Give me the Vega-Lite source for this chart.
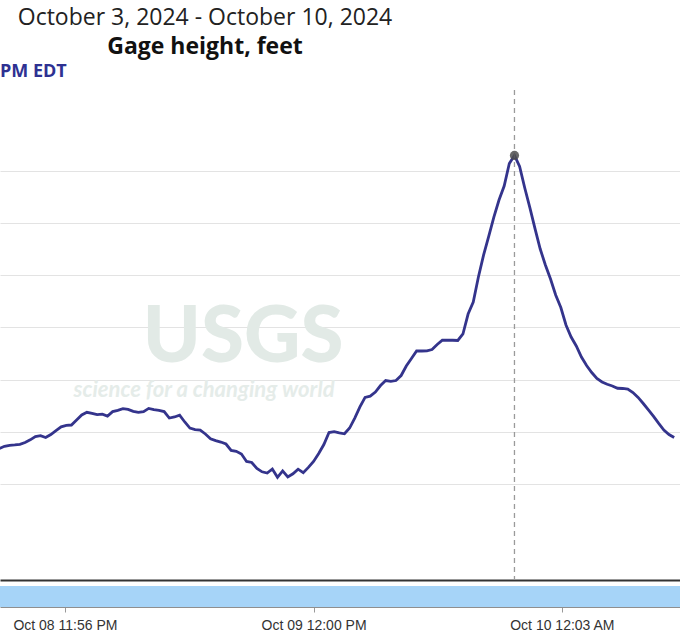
{
  "$schema": "https://vega.github.io/schema/vega-lite/v6.json",
  "padding": {"left": 0, "right": 0, "top": 7, "bottom": 0},
  "background": "white",
  "config": {"view": {"stroke": null}, "concat": {"spacing": 5}},
  "title": {
    "text": "October 3, 2024 - October 10, 2024",
    "subtitle": "Gage height, feet",
    "anchor": "middle",
    "dx": -135,
    "offset": 4,
    "font": "Open Sans",
    "fontSize": 23,
    "fontWeight": "normal",
    "color": "#222222",
    "subtitleFont": "Open Sans",
    "subtitleFontSize": 23,
    "subtitleFontWeight": "bold",
    "subtitleColor": "#111111",
    "subtitlePadding": 6
  },
  "datasets": {
    "gage": [
      {"t": "2024-10-08T20:30", "v": 2.326},
      {"t": "2024-10-08T20:45", "v": 2.340},
      {"t": "2024-10-08T21:00", "v": 2.361},
      {"t": "2024-10-08T21:15", "v": 2.371},
      {"t": "2024-10-08T21:30", "v": 2.374},
      {"t": "2024-10-08T21:45", "v": 2.380},
      {"t": "2024-10-08T22:00", "v": 2.398},
      {"t": "2024-10-08T22:15", "v": 2.423},
      {"t": "2024-10-08T22:30", "v": 2.455},
      {"t": "2024-10-08T22:45", "v": 2.463},
      {"t": "2024-10-08T23:00", "v": 2.445},
      {"t": "2024-10-08T23:15", "v": 2.474},
      {"t": "2024-10-08T23:30", "v": 2.512},
      {"t": "2024-10-08T23:45", "v": 2.548},
      {"t": "2024-10-09T00:00", "v": 2.562},
      {"t": "2024-10-09T00:15", "v": 2.565},
      {"t": "2024-10-09T00:30", "v": 2.613},
      {"t": "2024-10-09T00:45", "v": 2.661},
      {"t": "2024-10-09T01:00", "v": 2.687},
      {"t": "2024-10-09T01:15", "v": 2.677},
      {"t": "2024-10-09T01:30", "v": 2.664},
      {"t": "2024-10-09T01:45", "v": 2.669},
      {"t": "2024-10-09T02:00", "v": 2.651},
      {"t": "2024-10-09T02:15", "v": 2.693},
      {"t": "2024-10-09T02:30", "v": 2.705},
      {"t": "2024-10-09T02:45", "v": 2.721},
      {"t": "2024-10-09T03:00", "v": 2.714},
      {"t": "2024-10-09T03:15", "v": 2.696},
      {"t": "2024-10-09T03:30", "v": 2.687},
      {"t": "2024-10-09T03:45", "v": 2.693},
      {"t": "2024-10-09T04:00", "v": 2.724},
      {"t": "2024-10-09T04:15", "v": 2.712},
      {"t": "2024-10-09T04:30", "v": 2.706},
      {"t": "2024-10-09T04:45", "v": 2.694},
      {"t": "2024-10-09T05:00", "v": 2.632},
      {"t": "2024-10-09T05:15", "v": 2.642},
      {"t": "2024-10-09T05:30", "v": 2.660},
      {"t": "2024-10-09T05:45", "v": 2.594},
      {"t": "2024-10-09T06:00", "v": 2.536},
      {"t": "2024-10-09T06:15", "v": 2.521},
      {"t": "2024-10-09T06:30", "v": 2.517},
      {"t": "2024-10-09T06:45", "v": 2.479},
      {"t": "2024-10-09T07:00", "v": 2.433},
      {"t": "2024-10-09T07:15", "v": 2.415},
      {"t": "2024-10-09T07:30", "v": 2.402},
      {"t": "2024-10-09T07:45", "v": 2.383},
      {"t": "2024-10-09T08:00", "v": 2.321},
      {"t": "2024-10-09T08:15", "v": 2.313},
      {"t": "2024-10-09T08:30", "v": 2.287},
      {"t": "2024-10-09T08:45", "v": 2.216},
      {"t": "2024-10-09T09:00", "v": 2.206},
      {"t": "2024-10-09T09:15", "v": 2.150},
      {"t": "2024-10-09T09:30", "v": 2.117},
      {"t": "2024-10-09T09:45", "v": 2.105},
      {"t": "2024-10-09T10:00", "v": 2.144},
      {"t": "2024-10-09T10:15", "v": 2.064},
      {"t": "2024-10-09T10:30", "v": 2.126},
      {"t": "2024-10-09T10:45", "v": 2.067},
      {"t": "2024-10-09T11:00", "v": 2.098},
      {"t": "2024-10-09T11:15", "v": 2.142},
      {"t": "2024-10-09T11:30", "v": 2.109},
      {"t": "2024-10-09T11:45", "v": 2.159},
      {"t": "2024-10-09T12:00", "v": 2.216},
      {"t": "2024-10-09T12:15", "v": 2.292},
      {"t": "2024-10-09T12:30", "v": 2.378},
      {"t": "2024-10-09T12:45", "v": 2.493},
      {"t": "2024-10-09T13:00", "v": 2.501},
      {"t": "2024-10-09T13:15", "v": 2.489},
      {"t": "2024-10-09T13:30", "v": 2.481},
      {"t": "2024-10-09T13:45", "v": 2.536},
      {"t": "2024-10-09T14:00", "v": 2.632},
      {"t": "2024-10-09T14:15", "v": 2.738},
      {"t": "2024-10-09T14:30", "v": 2.830},
      {"t": "2024-10-09T14:45", "v": 2.841},
      {"t": "2024-10-09T15:00", "v": 2.881},
      {"t": "2024-10-09T15:15", "v": 2.943},
      {"t": "2024-10-09T15:30", "v": 2.991},
      {"t": "2024-10-09T15:45", "v": 2.984},
      {"t": "2024-10-09T16:00", "v": 2.991},
      {"t": "2024-10-09T16:15", "v": 3.039},
      {"t": "2024-10-09T16:30", "v": 3.130},
      {"t": "2024-10-09T16:45", "v": 3.202},
      {"t": "2024-10-09T17:00", "v": 3.274},
      {"t": "2024-10-09T17:15", "v": 3.274},
      {"t": "2024-10-09T17:30", "v": 3.276},
      {"t": "2024-10-09T17:45", "v": 3.288},
      {"t": "2024-10-09T18:00", "v": 3.336},
      {"t": "2024-10-09T18:15", "v": 3.377},
      {"t": "2024-10-09T18:30", "v": 3.379},
      {"t": "2024-10-09T18:45", "v": 3.377},
      {"t": "2024-10-09T19:00", "v": 3.375},
      {"t": "2024-10-09T19:15", "v": 3.437},
      {"t": "2024-10-09T19:30", "v": 3.628},
      {"t": "2024-10-09T19:45", "v": 3.743},
      {"t": "2024-10-09T20:00", "v": 3.983},
      {"t": "2024-10-09T20:15", "v": 4.193},
      {"t": "2024-10-09T20:30", "v": 4.371},
      {"t": "2024-10-09T20:45", "v": 4.557},
      {"t": "2024-10-09T21:00", "v": 4.720},
      {"t": "2024-10-09T21:15", "v": 4.854},
      {"t": "2024-10-09T21:30", "v": 5.070},
      {"t": "2024-10-09T21:45", "v": 5.147},
      {"t": "2024-10-09T22:00", "v": 5.041},
      {"t": "2024-10-09T22:15", "v": 4.835},
      {"t": "2024-10-09T22:30", "v": 4.644},
      {"t": "2024-10-09T22:45", "v": 4.443},
      {"t": "2024-10-09T23:00", "v": 4.251},
      {"t": "2024-10-09T23:15", "v": 4.098},
      {"t": "2024-10-09T23:30", "v": 3.964},
      {"t": "2024-10-09T23:45", "v": 3.810},
      {"t": "2024-10-10T00:00", "v": 3.690},
      {"t": "2024-10-10T00:15", "v": 3.523},
      {"t": "2024-10-10T00:30", "v": 3.408},
      {"t": "2024-10-10T00:45", "v": 3.322},
      {"t": "2024-10-10T01:00", "v": 3.216},
      {"t": "2024-10-10T01:15", "v": 3.135},
      {"t": "2024-10-10T01:30", "v": 3.068},
      {"t": "2024-10-10T01:45", "v": 3.011},
      {"t": "2024-10-10T02:00", "v": 2.977},
      {"t": "2024-10-10T02:15", "v": 2.955},
      {"t": "2024-10-10T02:30", "v": 2.939},
      {"t": "2024-10-10T02:45", "v": 2.917},
      {"t": "2024-10-10T03:00", "v": 2.915},
      {"t": "2024-10-10T03:15", "v": 2.910},
      {"t": "2024-10-10T03:30", "v": 2.876},
      {"t": "2024-10-10T03:45", "v": 2.829},
      {"t": "2024-10-10T04:00", "v": 2.771},
      {"t": "2024-10-10T04:15", "v": 2.709},
      {"t": "2024-10-10T04:30", "v": 2.647},
      {"t": "2024-10-10T04:45", "v": 2.580},
      {"t": "2024-10-10T05:00", "v": 2.517},
      {"t": "2024-10-10T05:15", "v": 2.474},
      {"t": "2024-10-10T05:30", "v": 2.445}
    ],
    "watermark": [
      {"wm": "USGS", "part": "logo"},
      {"wm": "science for a changing world", "part": "motto"}
    ]
  },
  "vconcat": [
    {
      "width": 680,
      "height": 490,
      "title": {
        "text": "PM EDT",
        "anchor": "start",
        "font": "Open Sans",
        "fontSize": 18,
        "fontWeight": "bold",
        "color": "#2e3192",
        "offset": 8
      },
      "layer": [
        {
          "data": {"name": "watermark"},
          "transform": [{"filter": "datum.part === 'logo'"}],
          "mark": {"type": "text", "font": "Lato", "fontSize": 78, "fontWeight": 900, "color": "#e2eae6", "align": "center", "baseline": "alphabetic"},
          "encoding": {
            "x": {"datum": {"year": 2024, "month": 10, "date": 9, "hours": 8, "minutes": 35}, "type": "temporal"},
            "y": {"datum": 3.169, "type": "quantitative"},
            "text": {"field": "wm", "type": "nominal"}
          }
        },
        {
          "data": {"name": "watermark"},
          "transform": [{"filter": "datum.part === 'motto'"}],
          "mark": {"type": "text", "font": "Lato", "fontSize": 22, "fontStyle": "italic", "fontWeight": "bold", "color": "#e5ece9", "align": "center", "baseline": "alphabetic"},
          "encoding": {
            "x": {"datum": {"year": 2024, "month": 10, "date": 9, "hours": 6, "minutes": 41}, "type": "temporal"},
            "y": {"datum": 2.833, "type": "quantitative"},
            "text": {"field": "wm", "type": "nominal"}
          }
        },
        {
          "data": {"name": "gage"},
          "mark": {"type": "line", "color": "#34348c", "strokeWidth": 2.8, "clip": true, "interpolate": "linear"},
          "encoding": {
            "x": {
              "field": "t",
              "type": "temporal",
              "scale": {
                "domain": [
                  {"year": 2024, "month": 10, "date": 8, "hours": 20, "minutes": 47},
                  {"year": 2024, "month": 10, "date": 10, "hours": 5, "minutes": 47}
                ],
                "nice": false
              },
              "axis": {"title": null, "labels": false, "ticks": false, "grid": false, "domain": true, "domainColor": "#333333", "domainWidth": 2, "minExtent": 0, "maxExtent": 0}
            },
            "y": {
              "field": "v",
              "type": "quantitative",
              "scale": {"domain": [1.0805, 5.774], "nice": false, "zero": false},
              "axis": {"title": null, "labels": false, "ticks": false, "domain": false, "grid": true, "gridColor": "#e3e3e3", "gridWidth": 1, "values": [2, 2.5, 3, 3.5, 4, 4.5, 5], "minExtent": 0, "maxExtent": 0}
            }
          }
        },
        {
          "data": {"name": "gage"},
          "transform": [
            {"joinaggregate": [{"op": "max", "field": "v", "as": "vmax"}]},
            {"filter": "datum.v === datum.vmax"}
          ],
          "layer": [
            {
              "mark": {"type": "rule", "color": "#9a9a9a", "strokeWidth": 1.3, "strokeDash": [5, 4]},
              "encoding": {"x": {"field": "t", "type": "temporal"}}
            },
            {
              "mark": {"type": "point", "filled": true, "color": "#4d4d4d", "opacity": 0.85, "size": 85, "shape": "circle"},
              "encoding": {
                "x": {"field": "t", "type": "temporal"},
                "y": {"field": "v", "type": "quantitative"}
              }
            }
          ]
        }
      ]
    },
    {
      "width": 680,
      "height": 21,
      "data": {"values": [{"band": "navigator"}]},
      "mark": {"type": "rect", "color": "#a6d4f8"},
      "encoding": {
        "x": {
          "datum": {"year": 2024, "month": 10, "date": 8, "hours": 20, "minutes": 47},
          "type": "temporal",
          "scale": {
            "domain": [
              {"year": 2024, "month": 10, "date": 8, "hours": 20, "minutes": 47},
              {"year": 2024, "month": 10, "date": 10, "hours": 5, "minutes": 47}
            ],
            "nice": false
          },
          "axis": {
            "title": null,
            "values": [
              {"year": 2024, "month": 10, "date": 8, "hours": 23, "minutes": 56},
              {"year": 2024, "month": 10, "date": 9, "hours": 12, "minutes": 0},
              {"year": 2024, "month": 10, "date": 10, "hours": 0, "minutes": 3}
            ],
            "format": "%b %d %I:%M %p",
            "labelFont": "Liberation Sans",
            "labelFontSize": 14,
            "labelColor": "#333333",
            "labelPadding": 6,
            "labelOverlap": false,
            "labelFlush": false,
            "tickColor": "#999999",
            "tickSize": 5,
            "domainColor": "#8f8f8f",
            "grid": false
          }
        },
        "x2": {"datum": {"year": 2024, "month": 10, "date": 10, "hours": 5, "minutes": 47}}
      }
    }
  ]
}
